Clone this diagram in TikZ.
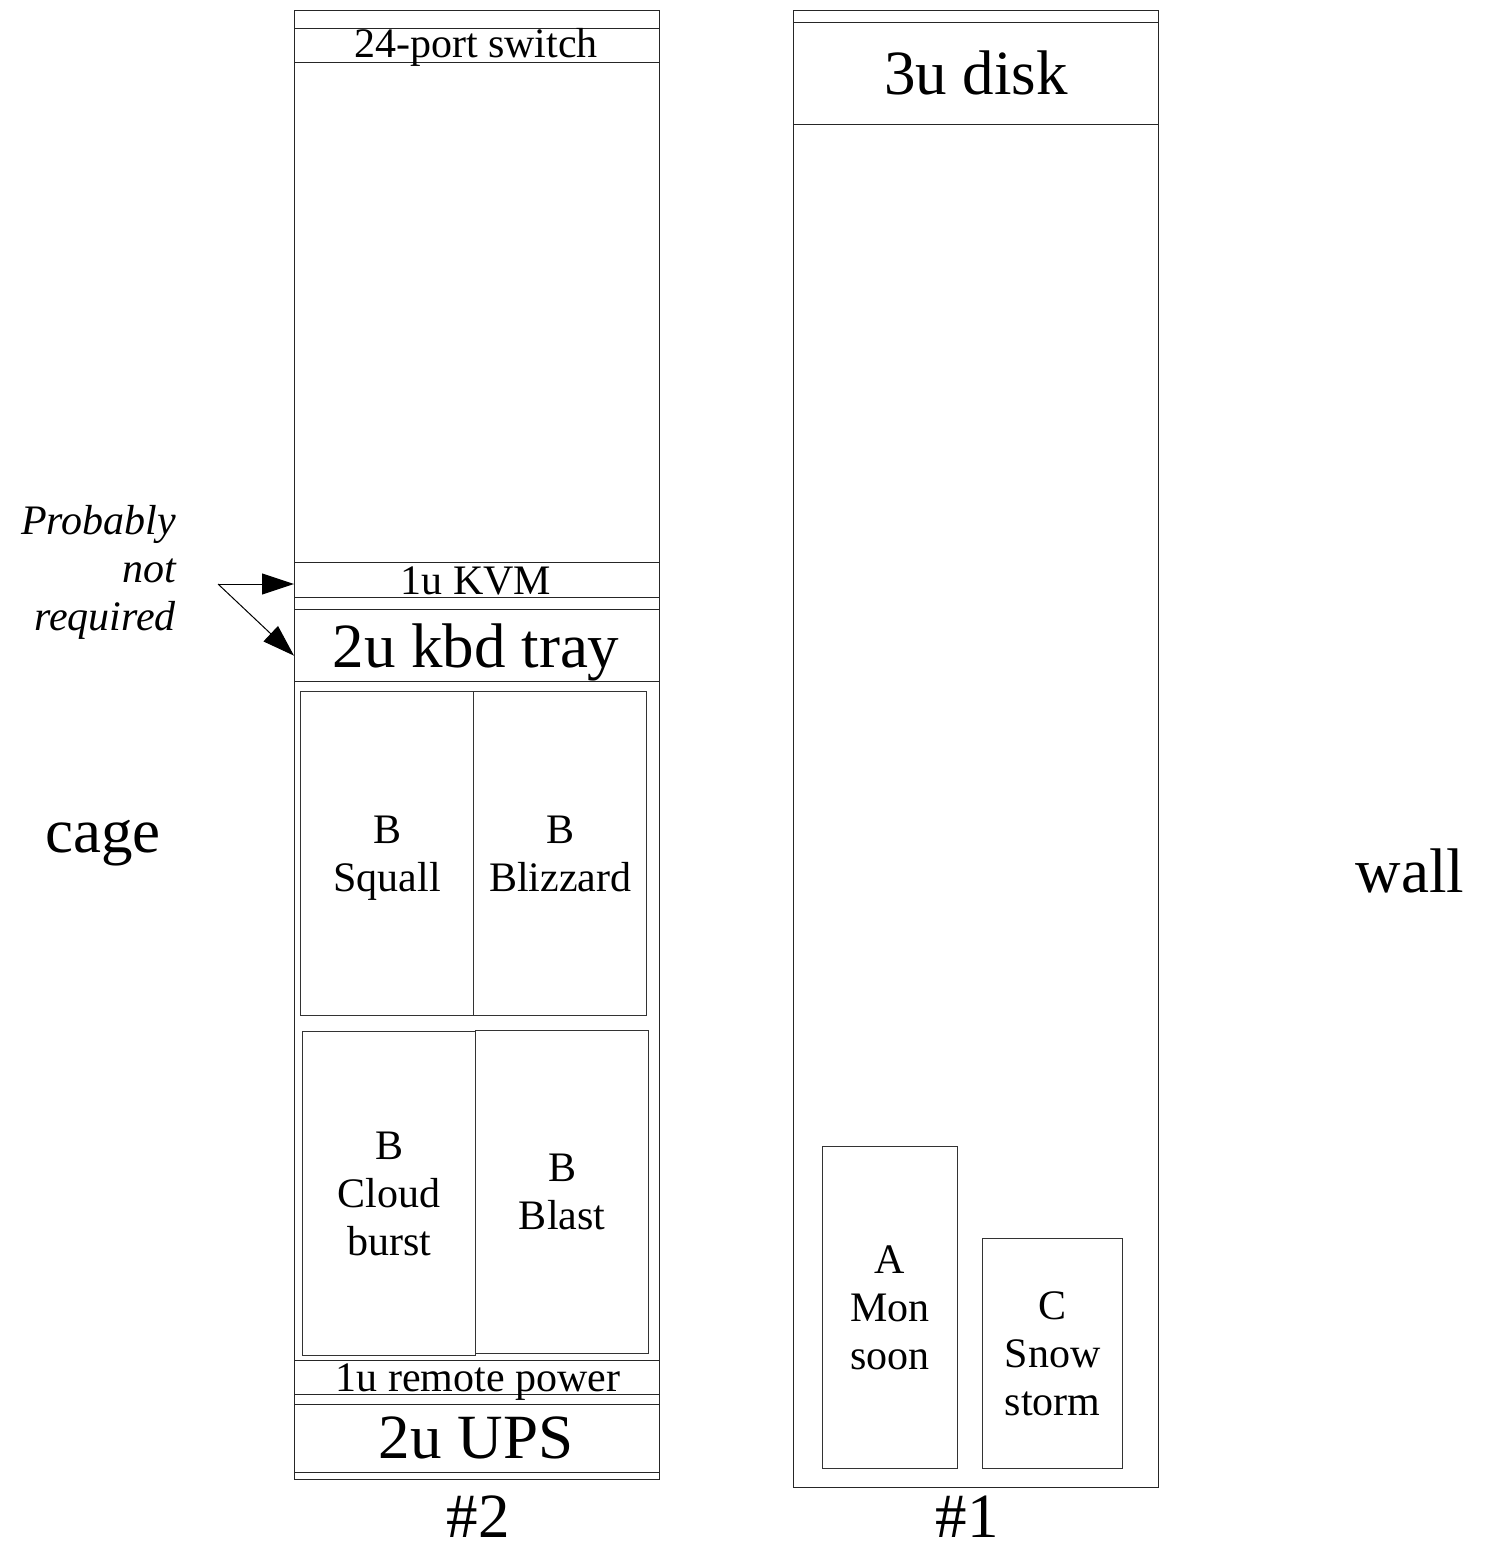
\documentclass[tikz,border=0pt]{standalone}
\usepackage{fontspec}
\setmainfont{Liberation Serif}
\usetikzlibrary{arrows.meta}
\begin{document}
\begin{tikzpicture}[x=1pt,y=-1pt,
  frame/.style={draw=black!85, line width=1.3pt, rectangle, inner sep=0pt, anchor=north west},
  blade/.style={draw=black!80, line width=1.3pt, rectangle, inner sep=0pt, anchor=north west},
  smalltxt/.style={font=\fontsize{42}{48}\selectfont, inner sep=0pt, align=center},
  bladetxt/.style={smalltxt, text depth=10pt, yshift=-5pt},
  bigtxt/.style={font=\fontsize{63}{72}\selectfont, inner sep=0pt, align=center},
  arr/.style={line width=1pt, -{Triangle[length=32pt,width=21pt]}}
]
\useasboundingbox (0,0) rectangle (1484,1549);

% ---- rack #2 ----
\node[frame, minimum width=365, minimum height=1469] (r2) at (294,10) {};
\node[frame, minimum width=365, minimum height=34] (sw) at (294,28) {};
\node[smalltxt, anchor=base] (swt) at (476,58) {24-port switch};
\node[frame, minimum width=365, minimum height=35] (kvm) at (294,562) {};
\node[smalltxt, anchor=base] (kvmt) at (476,594) {1u KVM};
\node[frame, minimum width=365, minimum height=72] (tray) at (294,609) {};
\node[bigtxt, anchor=base] (trayt) at (476,667) {2u kbd tray};

\node[blade, minimum width=173, minimum height=324] (sq) at (300,691) {};
\node[bladetxt] (sqt) at (sq.center) {B\\Squall};
\node[blade, minimum width=173, minimum height=324] (bz) at (473,691) {};
\node[bladetxt] (bzt) at (bz.center) {B\\Blizzard};
\node[blade, minimum width=173, minimum height=324] (cb) at (302,1031) {};
\node[bladetxt] (cbt) at (cb.center) {B\\Cloud\\burst};
\node[blade, minimum width=173, minimum height=323] (bl) at (475,1030) {};
\node[bladetxt] (blt) at (bl.center) {B\\Blast};

\node[frame, minimum width=365, minimum height=34] (rp) at (294,1360) {};
\node[smalltxt, anchor=base] (rpt) at (478,1391) {1u remote power};
\node[frame, minimum width=365, minimum height=68] (ups) at (294,1404) {};
\node[bigtxt, anchor=base] (upst) at (476,1458) {2u UPS};
\node[bigtxt, anchor=base] (n2) at (478,1537) {\#2};

% ---- rack #1 ----
\node[frame, minimum width=365, minimum height=1477] (r1) at (793,10) {};
\node[frame, minimum width=365, minimum height=102] (disk) at (793,22) {};
\node[bigtxt, anchor=base] (diskt) at (976,95) {3u disk};
\node[blade, minimum width=135, minimum height=322] (mo) at (822,1146) {};
\node[bladetxt] (mot) at (mo.center) {A\\Mon\\soon};
\node[blade, minimum width=140, minimum height=230] (ss) at (982,1238) {};
\node[bladetxt] (sst) at (ss.center) {C\\Snow\\storm};
\node[bigtxt, anchor=base] (n1) at (967,1537) {\#1};

% ---- side labels ----
\node[bigtxt, anchor=base] (cage) at (103,852) {cage};
\node[bigtxt, anchor=base] (wall) at (1410,892) {wall};
\node[smalltxt, align=right, anchor=east, font=\fontsize{42}{48}\itshape\selectfont] (note) at (176,572) {Probably\\not\\required};

\coordinate (ap) at (218,584);
\draw[arr] (ap) -- (kvm.west |- ap);
\draw[arr] (ap) -- ([yshift=-10pt]tray.west);
\end{tikzpicture}
\end{document}
